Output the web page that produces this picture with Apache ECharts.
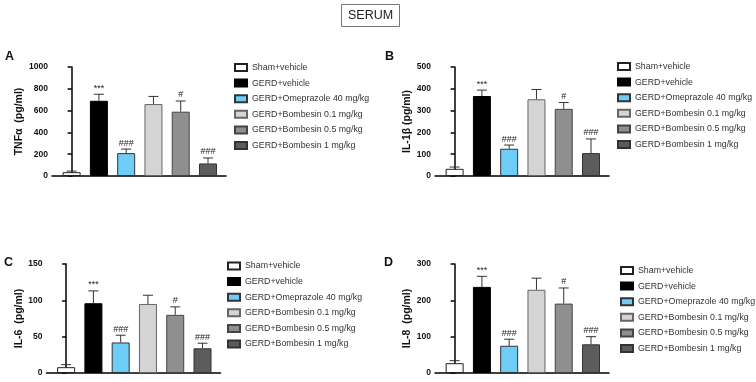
<!DOCTYPE html>
<html>
<head>
<meta charset="utf-8">
<script src="https://cdn.jsdelivr.net/npm/echarts@6/dist/echarts.min.js"></script>
<style>
html,body{margin:0;padding:0;background:#fff;}
#chart{width:756px;height:382px;}
</style>
</head>
<body>
<div id="chart"></div>
<script>
const categories = ['Sham+vehicle','GERD+vehicle','GERD+Omeprazole 40 mg/kg','GERD+Bombesin 0.1 mg/kg','GERD+Bombesin 0.5 mg/kg','GERD+Bombesin 1 mg/kg'];
const tnfMean = [35, 690, 210, 660, 590, 115];
const tnfErr  = [10, 60, 37, 70, 98, 50];
const il1bMean = [33, 367, 125, 352, 308, 105];
const il1bErr  = [8, 27, 17, 45, 29, 65];
const il6Mean = [8, 96, 42, 95, 80, 34];
const il6Err  = [3.5, 17, 10, 12, 11, 7];
const il8Mean = [27, 237, 75, 229, 191, 79];
const il8Err  = [7, 29, 18, 32, 43, 21];
const marks = ['', '***', '###', '', '#', '###'];
const yMaxes = [1000, 500, 150, 300];
const yIntervals = [200, 100, 50, 100];
const yNames = ['TNFα  (pg/ml)', 'IL-1β (pg/ml)', 'IL-6  (pg/ml)', 'IL-8  (pg/ml)'];
const panelLetters = ['A', 'B', 'C', 'D'];
const mainTitle = 'SERUM';

const means = [tnfMean, il1bMean, il6Mean, il8Mean];
const errs = [tnfErr, il1bErr, il6Err, il8Err];
const colors = ['#ffffff', '#000000', '#6ecdf7', '#d4d4d4', '#8f8f8f', '#5c5c5c'];
const borders = ['#222', '#000', '#333', '#666', '#444', '#333'];

const grids = [
  {left: 52, top: 67, width: 174, height: 109},
  {left: 435, top: 67, width: 174, height: 109},
  {left: 46.5, top: 264, width: 174, height: 109},
  {left: 435, top: 264, width: 174, height: 109}
];
const nameGaps = [27, 20.5, 20, 16.5];
const letterPos = [[5, 50], [385, 50], [4, 256], [384, 256]];
const legendPos = [[234, 63], [617, 62], [227, 261.5], [620, 266]];

const FONT = 'Liberation Sans';
const xAxes = [], yAxes = [], series = [], titles = [], legends = [];

titles.push({
  text: mainTitle, left: 341, top: 4,
  padding: [5, 7], borderWidth: 1, borderColor: '#777',
  textStyle: {fontSize: 12.5, fontWeight: 'normal', color: '#222', fontFamily: FONT}
});

for (let p = 0; p < 4; p++) {
  titles.push({
    text: panelLetters[p], left: letterPos[p][0], top: letterPos[p][1], padding: 0,
    textStyle: {fontSize: 12.5, fontWeight: 'bold', color: '#111', fontFamily: FONT}
  });
  xAxes.push({
    gridIndex: p, type: 'value', min: -0.72, max: 5.66,
    axisLine: {show: true, onZero: false, lineStyle: {color: '#000', width: 1.5}},
    axisTick: {show: false}, axisLabel: {show: false}, splitLine: {show: false}
  });
  yAxes.push({
    gridIndex: p, type: 'value', min: 0, max: yMaxes[p], interval: yIntervals[p],
    name: yNames[p], nameLocation: 'middle', nameGap: nameGaps[p],
    nameTextStyle: {fontSize: 10.5, fontWeight: 'bold', color: '#111', fontFamily: FONT},
    axisLine: {show: true, lineStyle: {color: '#000', width: 1.5}},
    axisTick: {show: true, length: 4, lineStyle: {color: '#000', width: 1.5}},
    axisLabel: {fontSize: 8.5, fontWeight: 'bold', color: '#111', margin: 4, fontFamily: FONT,
      formatter: function (v) { return String(v); }},
    splitLine: {show: false}
  });
  for (let i = 0; i < categories.length; i++) {
    series.push({
      type: 'bar', name: categories[i], xAxisIndex: p, yAxisIndex: p,
      data: [[i, means[p][i]]], barWidth: 18, barGap: '-100%',
      itemStyle: {color: colors[i], borderColor: borders[i], borderWidth: 1},
      emphasis: {disabled: true}, z: 2
    });
  }
  const ebData = means[p].map((m, i) => [i, m, errs[p][i]]);
  series.push({
    type: 'custom', xAxisIndex: p, yAxisIndex: p, data: ebData,
    encode: {x: 0, y: 1}, z: 3, silent: true,
    renderItem: function (params, api) {
      const x = api.value(0), y = api.value(1), e = api.value(2);
      const base = api.coord([x, y]);
      const top = api.coord([x, y + e]);
      const children = [
        {type: 'line', shape: {x1: base[0], y1: base[1], x2: top[0], y2: top[1]}, style: {stroke: '#333', lineWidth: 1}},
        {type: 'line', shape: {x1: top[0] - 5, y1: top[1], x2: top[0] + 5, y2: top[1]}, style: {stroke: '#333', lineWidth: 1}}
      ];
      const m = marks[params.dataIndex];
      if (m) {
        children.push({type: 'text', style: {text: m, x: top[0], y: top[1] - 1.5, align: 'center', verticalAlign: 'bottom', fontSize: 9, fill: '#222', fontFamily: FONT}});
      }
      return {type: 'group', children: children};
    }
  });
  legends.push({
    orient: 'vertical', left: legendPos[p][0], top: legendPos[p][1],
    itemWidth: 12, itemHeight: 7, itemGap: 6.6, icon: 'rect', selectedMode: false,
    data: categories, padding: 0,
    textStyle: {fontSize: 8.8, color: '#333', fontFamily: FONT}
  });
}

const chart = echarts.init(document.getElementById('chart'), null, {renderer: 'canvas'});
chart.setOption({
  animation: false,
  backgroundColor: '#ffffff',
  textStyle: {fontFamily: FONT},
  title: titles,
  legend: legends,
  grid: grids,
  xAxis: xAxes,
  yAxis: yAxes,
  series: series
});
</script>
</body>
</html>
